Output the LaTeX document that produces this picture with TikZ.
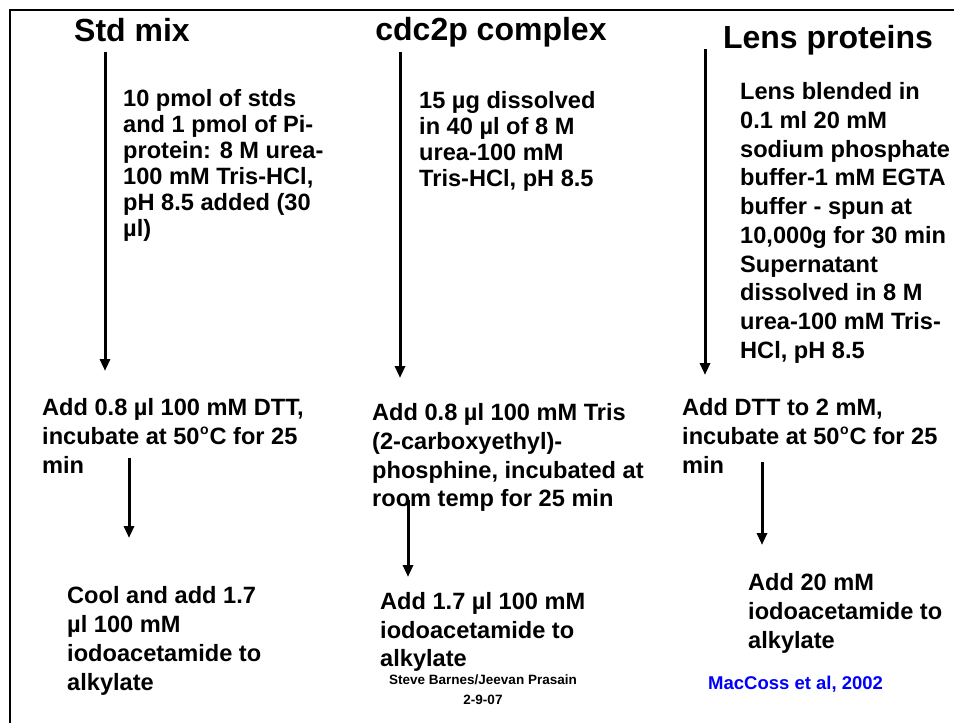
\documentclass[tikz,border=0pt]{standalone}
\usepackage{fontspec}
\setmainfont{Liberation Sans}
\usetikzlibrary{arrows.meta}
\newcommand{\degsup}{\kern0.5pt\raisebox{0.42em}{\fontsize{14}{14}\selectfont o}\kern1pt}
\begin{document}
\begin{tikzpicture}[x=1pt,y=-1pt,
  title/.style={font=\fontsize{32}{36}\selectfont\bfseries, anchor=base, inner sep=0pt},
  body/.style={font=\fontsize{23.6}{#1}\selectfont\bfseries, align=left, anchor=north west, inner sep=0pt},
  body/.default=26,
  flow/.style={line width=3pt, -{Triangle[length=12pt,width=10pt]}},
  frame/.style={line width=2pt}
]
\useasboundingbox (0,0) rectangle (954,723);
% frame
\coordinate (f1) at (954,10);
\coordinate (f2) at (10,10);
\coordinate (f3) at (10,723);
\draw[frame] (f1) -- (f2) -- (f3);

% titles
\node[title] (t1) at (132,41) {Std mix};
\node[title] (t2) at (491,40) {cdc2p complex};
\node[title] (t3) at (828,48) {Lens proteins};

% upper blocks
\node[body=26] (a) at (123,89.5) {10 pmol of stds\\and 1 pmol of Pi-\\protein: 8 M urea-\\100 mM Tris-HCl,\\pH 8.5 added (30\\µl)};
\node[body=26] (b) at (419,91.5) {15 µg dissolved\\in 40 µl of 8 M\\urea-100 mM\\Tris-HCl, pH 8.5};
\node[body=28.7] (c) at (740,82.5) {Lens blended in\\0.1 ml 20 mM\\sodium phosphate\\buffer-1 mM EGTA\\buffer - spun at\\10,000g for 30 min\\Supernatant\\dissolved in 8 M\\urea-100 mM Tris-\\HCl, pH 8.5};

% middle blocks
\node[body=29] (d) at (42,398.5) {Add 0.8 µl 100 mM DTT,\\incubate at 50\degsup C for 25\\min};
\node[body=28.7] (e) at (372,403.5) {Add 0.8 µl 100 mM Tris\\(2-carboxyethyl)-\\phosphine, incubated at\\room temp for 25 min};
\node[body=29] (f) at (682,398.5) {Add DTT to 2 mM,\\incubate at 50\degsup C for 25\\min};

% lower blocks
\node[body=29] (g) at (67,586.5) {Cool and add 1.7\\µl 100 mM\\iodoacetamide to\\alkylate};
\node[body=28.5] (h) at (380,592.5) {Add 1.7 µl 100 mM\\iodoacetamide to\\alkylate};
\node[body=29] (i) at (748,573.5) {Add 20 mM\\iodoacetamide to\\alkylate};

% footer
\node[font=\fontsize{13.5}{20}\selectfont\bfseries, align=center, anchor=north, inner sep=0pt] (s) at (483,675) {Steve Barnes/Jeevan Prasain\\2-9-07};
\node[font=\fontsize{18.5}{22}\selectfont\bfseries, text=blue, anchor=base west, inner sep=0pt] (m) at (708,689) {MacCoss et al, 2002};

% arrows
\coordinate (a1s) at (105,52);  \coordinate (a1e) at (105,371);
\coordinate (a2s) at (400,52);  \coordinate (a2e) at (400,378);
\coordinate (a3s) at (705,49);  \coordinate (a3e) at (705,375);
\coordinate (a4s) at (129,458); \coordinate (a4e) at (129,538);
\coordinate (a5s) at (408,500); \coordinate (a5e) at (408,577);
\coordinate (a6s) at (762,462); \coordinate (a6e) at (762,545);
\draw[flow] (a1s) -- (a1e);
\draw[flow] (a2s) -- (a2e);
\draw[flow] (a3s) -- (a3e);
\draw[flow] (a4s) -- (a4e);
\draw[flow] (a5s) -- (a5e);
\draw[flow] (a6s) -- (a6e);
\end{tikzpicture}
\end{document}
